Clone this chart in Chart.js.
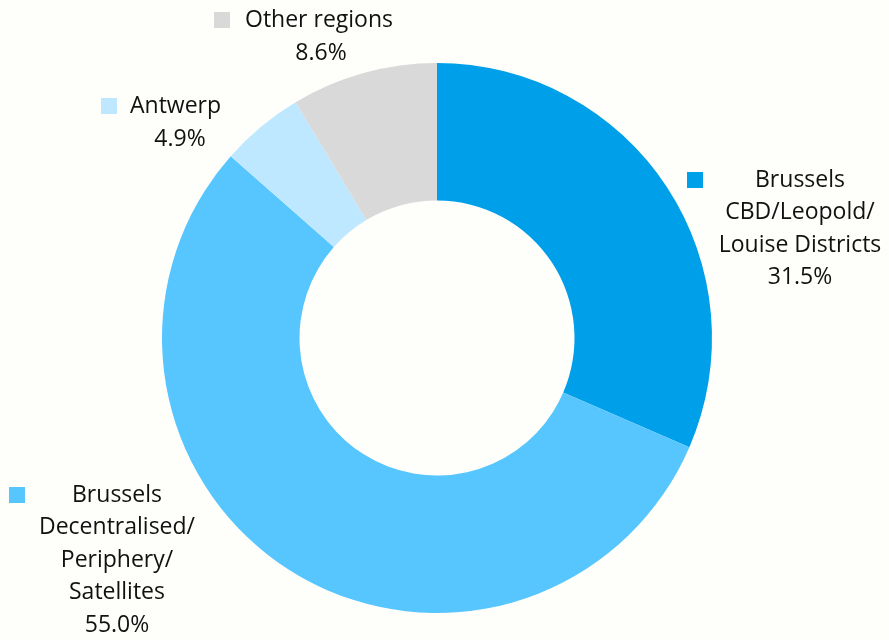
<!DOCTYPE html>
<html>
<head>
<meta charset="utf-8">
<script src="https://cdn.jsdelivr.net/npm/chart.js@4"></script>
<style>
  html, body { margin: 0; padding: 0; background: #fefefb; }
  #wrap { width: 889px; height: 640px; position: relative; }
</style>
</head>
<body>
<div id="wrap"><canvas id="regionChart"></canvas></div>
<script>
// office take-up split by region
const regions = [
  ['Brussels', 'CBD/Leopold/', 'Louise Districts'],
  ['Brussels', 'Decentralised/', 'Periphery/', 'Satellites'],
  ['Antwerp'],
  ['Other regions']
];
const shares = [31.5, 55.0, 4.9, 8.6];
const colours = ['#009fe9', '#57c6ff', '#bde8ff', '#d9d9da'];

// where each label block sits (text centre x, first line y, marker x)
const labelLayout = [
  { x: 800, y: 180, marker: 695, stacked: true },
  { x: 117, y: 495, marker: 17, stacked: true },
  { x: 130, y: 106, marker: 109, stacked: false, pctX: 180 },
  { x: 245, y: 20, marker: 222, stacked: false, pctX: 321 }
];

const labelPlugin = {
  id: 'sliceLabels',
  afterDraw(chart) {
    const ctx = chart.ctx;
    ctx.save();
    ctx.font = '23px "Open Sans", sans-serif';
    ctx.fillStyle = '#111';
    ctx.textBaseline = 'middle';
    const lineH = 32.5;
    regions.forEach(function(lines, i) {
      const l = labelLayout[i];
      const pct = shares[i].toFixed(1) + '%';
      ctx.fillStyle = colours[i];
      ctx.fillRect(l.marker - 8, l.y - 8, 16, 16);
      ctx.fillStyle = '#111';
      if (l.stacked) {
        ctx.textAlign = 'center';
        lines.concat([pct]).forEach(function(t, k) {
          ctx.fillText(t, l.x, l.y + k * lineH);
        });
      } else {
        ctx.textAlign = 'left';
        ctx.fillText(lines[0], l.x, l.y);
        ctx.textAlign = 'center';
        ctx.fillText(pct, l.pctX, l.y + 33);
      }
    });
    ctx.restore();
  }
};

new Chart(document.getElementById('regionChart'), {
  type: 'doughnut',
  data: {
    labels: regions.map(function(r) { return r.join(' '); }),
    datasets: [{
      data: shares,
      backgroundColor: colours,
      borderWidth: 0
    }]
  },
  options: {
    responsive: true,
    maintainAspectRatio: false,
    animation: false,
    cutout: '50%',
    layout: { padding: { top: 63, bottom: 27, left: 162, right: 177 } },
    plugins: {
      legend: { display: false },
      tooltip: { enabled: false }
    }
  },
  plugins: [labelPlugin]
});
</script>
</body>
</html>
